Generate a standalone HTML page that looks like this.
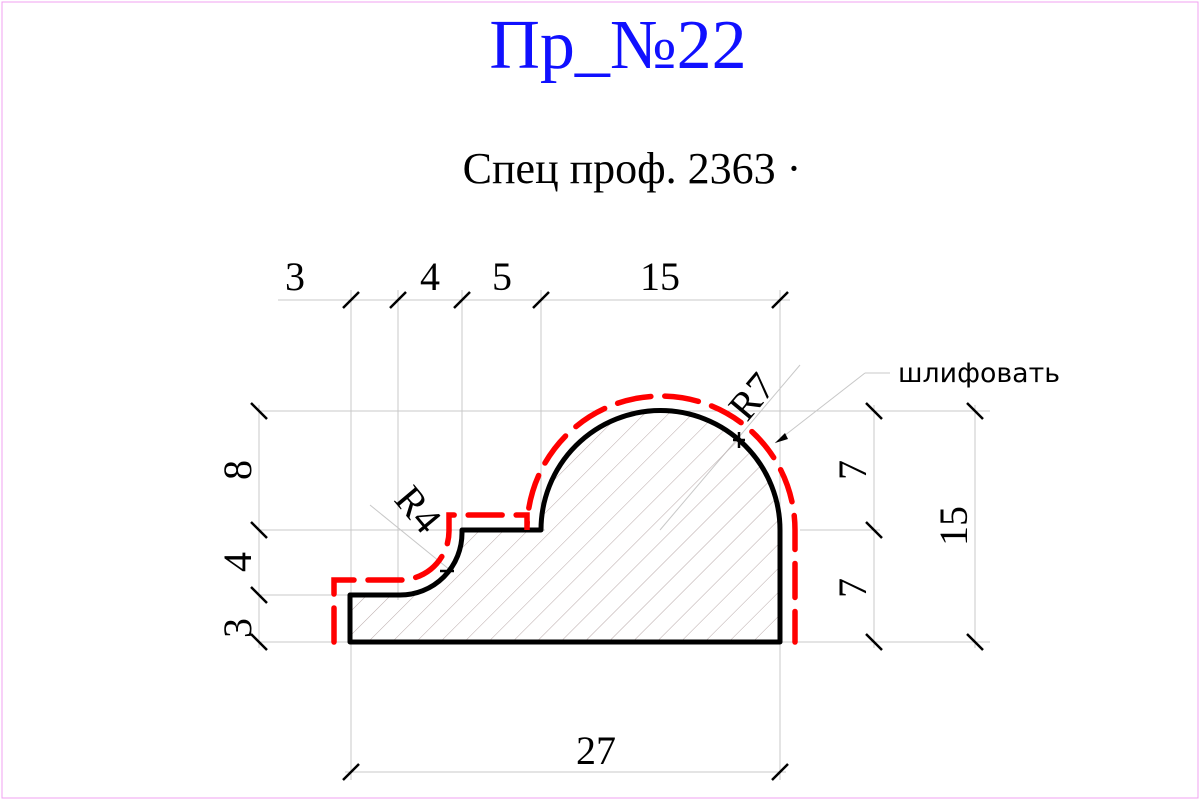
<!DOCTYPE html>
<html><head><meta charset="utf-8"><style>
html,body{margin:0;padding:0;background:#fff}
svg{display:block}
text{font-family:"Liberation Serif",serif}
</style></head><body>
<svg width="1200" height="800" viewBox="0 0 1200 800">
<rect x="2" y="2" width="1196" height="796" fill="none" stroke="#f0a0f0" stroke-width="1"/>
<text x="618" y="68" font-size="70" fill="#1010ff" text-anchor="middle">Пр_№22</text>
<text x="632" y="183" font-size="44" fill="#000" text-anchor="middle">Спец проф. 2363 ·</text>
<defs><pattern id="hatch" width="17" height="17" patternUnits="userSpaceOnUse" patternTransform="rotate(45)"><line x1="0" y1="0" x2="0" y2="17" stroke="#b8a8a8" stroke-width="1"/></pattern></defs>
<g stroke="#c8c8c8" stroke-width="1">
<line x1="278" y1="300" x2="790" y2="300"/>
<line x1="351" y1="290" x2="351" y2="780"/><line x1="398" y1="290" x2="398" y2="600"/>
<line x1="462" y1="290" x2="462" y2="530"/><line x1="541" y1="290" x2="541" y2="530"/>
<line x1="780" y1="290" x2="780" y2="780"/>
<line x1="258" y1="411" x2="990" y2="411"/><line x1="258" y1="530" x2="545" y2="530"/>
<line x1="800" y1="530" x2="880" y2="530"/>
<line x1="258" y1="595" x2="350" y2="595"/><line x1="258" y1="642" x2="990" y2="642"/>
<line x1="259" y1="405" x2="259" y2="648"/>
<line x1="874" y1="405" x2="874" y2="648"/><line x1="975" y1="405" x2="975" y2="648"/>
<line x1="345" y1="772" x2="786" y2="772"/>
<line x1="370" y1="505" x2="450" y2="570"/>
<line x1="660" y1="530" x2="800" y2="365"/>
<line x1="775" y1="443" x2="865" y2="373"/><line x1="865" y1="373" x2="890" y2="373"/>
</g>
<path d="M350,642 V595 H400 A62,62 0 0 0 462,533 V530 H541 A119.5,119.5 0 0 1 780,530 V642 Z" fill="url(#hatch)" stroke="#000" stroke-width="5" stroke-linejoin="round"/>
<path d="M334,642 V580 H400 A49,49 0 0 0 449,531 V515 H527 V530 A134,134 0 0 1 795,530 V642" fill="none" stroke="#f00" stroke-width="5.5" stroke-dasharray="34,14" stroke-linecap="round"/>
<g stroke="#000" stroke-width="2.5">
<line x1="343" y1="308" x2="359" y2="292"/><line x1="390" y1="308" x2="406" y2="292"/><line x1="454" y1="308" x2="470" y2="292"/><line x1="533" y1="308" x2="549" y2="292"/><line x1="772" y1="308" x2="788" y2="292"/>
<line x1="343" y1="780" x2="359" y2="764"/><line x1="772" y1="780" x2="788" y2="764"/>
<line x1="251" y1="403" x2="267" y2="419"/><line x1="251" y1="522" x2="267" y2="538"/><line x1="251" y1="587" x2="267" y2="603"/><line x1="251" y1="634" x2="267" y2="650"/>
<line x1="866" y1="403" x2="882" y2="419"/><line x1="866" y1="522" x2="882" y2="538"/><line x1="866" y1="634" x2="882" y2="650"/>
<line x1="967" y1="403" x2="983" y2="419"/><line x1="967" y1="634" x2="983" y2="650"/>
<line x1="733" y1="440" x2="745" y2="440"/><line x1="739" y1="432" x2="739" y2="448"/>
<line x1="440" y1="571" x2="454" y2="571"/>
</g>
<path d="M775,443 l10,-10 l3,6 z" fill="#000"/>
<g font-size="40" fill="#000" text-anchor="middle">
<text x="295" y="290">3</text><text x="430" y="290">4</text><text x="502" y="290">5</text><text x="660" y="290">15</text>
<text x="596" y="764">27</text>
<text transform="translate(251,470) rotate(-90)">8</text>
<text transform="translate(251,562) rotate(-90)">4</text>
<text transform="translate(251,628) rotate(-90)">3</text>
<text transform="translate(866,470) rotate(-90)">7</text>
<text transform="translate(866,588) rotate(-90)">7</text>
<text transform="translate(967,526) rotate(-90)">15</text>
<text transform="translate(408,518) rotate(50)">R4</text>
<text transform="translate(762,405) rotate(-50)">R7</text>
</g>
<text x="898" y="382" font-size="27" fill="#000" textLength="162" lengthAdjust="spacingAndGlyphs" style="font-family:'DejaVu Sans',sans-serif">шлифовать</text>
</svg>
</body></html>
